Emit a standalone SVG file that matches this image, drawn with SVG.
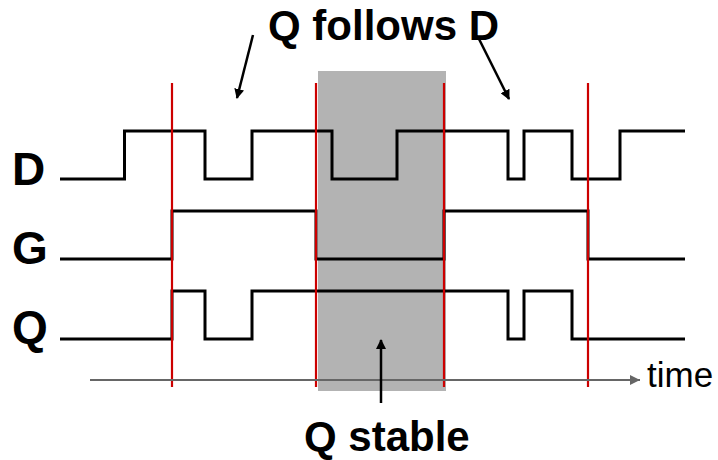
<svg xmlns="http://www.w3.org/2000/svg" width="718" height="460" viewBox="0 0 718 460">
<defs>
<style>
.sig{fill:none;stroke:#000;stroke-width:3;stroke-linejoin:miter}
.red{stroke:#cc0000;stroke-width:2.2}
.lbl{font-family:"Liberation Sans",Arial,sans-serif;font-weight:bold;fill:#000}
.ann{stroke:#000;stroke-width:2.5;fill:none}
</style>
<marker id="ah" viewBox="0 0 10 10" refX="9" refY="5" markerWidth="4" markerHeight="4" orient="auto" markerUnits="strokeWidth">
<path d="M0,0 L10,5 L0,10 z" fill="#000"/>
</marker>
<marker id="ta" viewBox="0 0 10 10" refX="10" refY="5" markerWidth="6" markerHeight="5" orient="auto" markerUnits="strokeWidth">
<path d="M0,0 L10,5 L0,10 z" fill="#666"/>
</marker>
</defs>
<rect id="stable-region" x="318" y="71" width="128" height="320" fill="#b3b3b3"/>
<g id="signal-D">
<text class="lbl" x="12" y="185" font-size="46">D</text>
<path class="sig" d="M60,179 H124.5 V131 H205 V179 H252 V131 H332 V179 H397 V131 H508 V179 H524 V131 H572 V179 H620 V131 H685"/>
</g>
<g id="signal-G">
<text class="lbl" x="12" y="264" font-size="46">G</text>
<path class="sig" d="M60,259 H172 V211 H316 V259 H444 V211 H588 V259 H685"/>
</g>
<g id="signal-Q">
<text class="lbl" x="12" y="343" font-size="46">Q</text>
<path class="sig" d="M60,339 H172 V291 H205 V339 H252 V291 H508 V339 H524 V291 H572 V339 H685"/>
</g>
<g id="connectors">
<line class="red" x1="172" y1="83" x2="172" y2="387"/>
<line class="red" x1="316" y1="83" x2="316" y2="387"/>
<line class="red" x1="444" y1="83" x2="444" y2="387"/>
<line class="red" x1="588" y1="83" x2="588" y2="387"/>
<line x1="90" y1="380" x2="640" y2="380" stroke="#666" stroke-width="2" marker-end="url(#ta)"/>
<line class="ann" x1="253" y1="35" x2="237" y2="98" marker-end="url(#ah)"/>
<line class="ann" x1="479" y1="39" x2="509" y2="99" marker-end="url(#ah)"/>
<line class="ann" x1="381" y1="403" x2="381" y2="340" marker-end="url(#ah)"/>
</g>
<g id="labels">
<text class="lbl" x="268" y="40" font-size="42">Q follows D</text>
<text class="lbl" x="304" y="451" font-size="42">Q stable</text>
<text x="647" y="387" font-size="35" font-family="Liberation Sans, Arial, sans-serif" fill="#000">time</text>
</g>
</svg>
